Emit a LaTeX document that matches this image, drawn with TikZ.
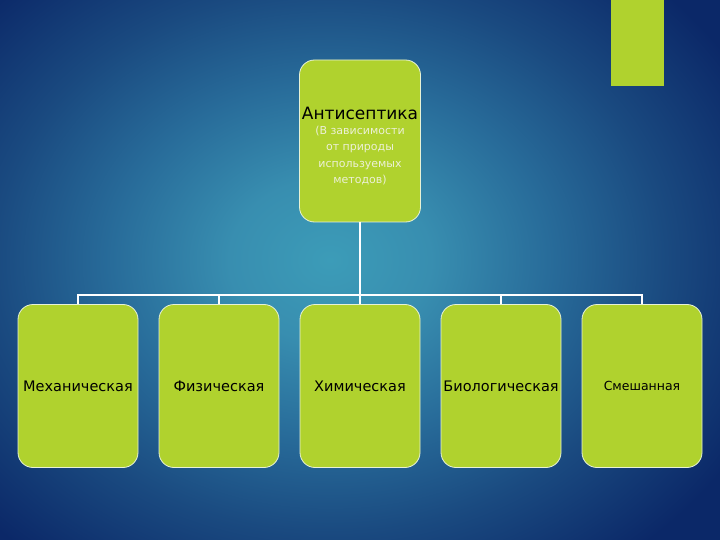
\documentclass[tikz,border=0pt]{standalone}
\usepackage{fontspec}
\setmainfont{DejaVu Sans}
\usetikzlibrary{positioning}
\definecolor{slidegreen}{RGB}{176,210,46}
\definecolor{boxrim}{RGB}{232,242,214}
\definecolor{subtext}{RGB}{236,240,214}
\definecolor{bgcenter}{RGB}{60,156,184}
\definecolor{bglight}{RGB}{56,142,176}
\definecolor{bgmid}{RGB}{40,108,154}
\definecolor{bgdark}{RGB}{26,74,128}
\definecolor{bgedge}{RGB}{11,40,104}
\pgfdeclareradialshading{slidebg}{\pgfpoint{0bp}{0bp}}{color(0bp)=(bgcenter);
	color(6bp)=(bglight); color(13bp)=(bgmid); color(20bp)=(bgdark);
	color(28bp)=(bgedge); color(50bp)=(bgedge)}

\begin{document}
\begin{tikzpicture}[x=1pt, y=-1pt, node distance=20.2pt]
    \tikzstyle{leaf} = [draw=boxrim, line width=0.8pt, fill=slidegreen,
	rounded corners=15pt, minimum width=120pt, minimum height=163pt,
	inner sep=0pt, text=black, font=\fontsize{14.5}{17}\selectfont]
    \tikzstyle{link} = [draw=white, line width=1.6pt]

	% background of the slide
	\begin{scope}
		\clip (0,0) rectangle (720,540);
		\shade[shading=slidebg] (-90,-80) rectangle (750,600);
	\end{scope}
	\fill[slidegreen] (611,0) rectangle (664,86);
	\useasboundingbox (0,0) rectangle (720,540);

	\coordinate (bus) at (360,295);

	\begin{scope}
		\path
			node[leaf, minimum width=121pt, minimum height=162pt, align=center,
				text=subtext, font=\fontsize{11}{16.5}\selectfont] (root) at (360,141)
				{{\color{black}\fontsize{17}{20}\selectfont\rule{0pt}{23pt}Антисептика}\\[-2pt]
				(В зависимости\\от природы\\используемых\\методов)}

			node[leaf] (mech) at (78,386) {Механическая}
			node[leaf, right=of mech] (phys) {Физическая}
			node[leaf, right=of phys] (chem) {Химическая}
			node[leaf, right=of chem] (bio) {Биологическая}
			node[leaf, right=of bio, font=\fontsize{12.5}{15}\selectfont] (mixed) {Смешанная}
		;

		\draw[link] (root) -- (bus);
		\foreach \leafname in {mech, phys, chem, bio, mixed}
			\draw[link] (bus) -| (\leafname.north);
	\end{scope}
\end{tikzpicture}
\end{document}
